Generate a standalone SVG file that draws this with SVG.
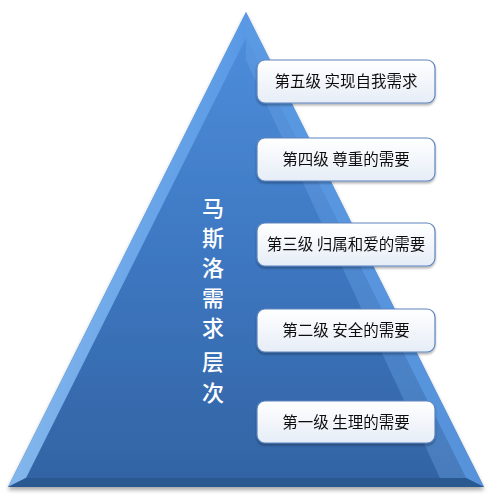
<svg xmlns="http://www.w3.org/2000/svg" width="490" height="496" viewBox="0 0 490 496">
<defs>
<linearGradient id="body" x1="0" y1="0" x2="0" y2="1">
<stop offset="0" stop-color="#4f8fdd"/>
<stop offset="0.5" stop-color="#3e78c2"/>
<stop offset="1" stop-color="#3263a3"/>
</linearGradient>
<linearGradient id="bevelL" x1="0" y1="0" x2="1" y2="0">
<stop offset="0" stop-color="#8cc0f4"/>
<stop offset="1" stop-color="#5a9ae6"/>
</linearGradient>
<linearGradient id="box" x1="0" y1="0" x2="0" y2="1">
<stop offset="0" stop-color="#ffffff"/>
<stop offset="1" stop-color="#e6edf7"/>
</linearGradient>
<filter id="sh" x="-10%" y="-10%" width="120%" height="130%">
<feGaussianBlur in="SourceAlpha" stdDeviation="2"/>
<feOffset dx="0" dy="3"/>
<feComponentTransfer><feFuncA type="linear" slope="0.35"/></feComponentTransfer>
<feMerge><feMergeNode/><feMergeNode in="SourceGraphic"/></feMerge>
</filter>
<filter id="bsh" x="-10%" y="-10%" width="120%" height="140%">
<feGaussianBlur in="SourceAlpha" stdDeviation="1.2"/>
<feOffset dx="0" dy="1.5"/>
<feComponentTransfer><feFuncA type="linear" slope="0.3"/></feComponentTransfer>
<feMerge><feMergeNode/><feMergeNode in="SourceGraphic"/></feMerge>
</filter>
</defs>
<style>
.box{fill:url(#box);stroke:#5d84bd;stroke-width:1.2}
.lbl{font-family:"Noto Sans CJK SC","Microsoft YaHei",sans-serif;font-size:15.5px;fill:#111;text-anchor:middle}
.vt{font-family:"Noto Sans CJK SC",serif;font-size:22px;font-weight:500;fill:#ffffff;text-anchor:middle}
</style>
<g id="pyramid" filter="url(#sh)">
<polygon points="246,12 8,487 484,487" fill="url(#body)"/>
<polygon points="246,12 8,487 26,478 246,38" fill="url(#bevelL)" opacity="0.9"/>
<polygon points="246,12 484,487 466,478 246,38" fill="#5d9be4" opacity="0.85"/>
<polygon points="8,487 484,487 466,478 26,478" fill="#2b5890"/>
<polygon points="246,38 466,478 440,478 246,60" fill="#6fa8ea" opacity="0.35"/>
</g>
<g id="title">
<text class="vt" x="213" y="216">马</text>
<text class="vt" x="213" y="246">斯</text>
<text class="vt" x="213" y="276">洛</text>
<text class="vt" x="213" y="306">需</text>
<text class="vt" x="213" y="336">求</text>
<text class="vt" x="213" y="370">层</text>
<text class="vt" x="213" y="401">次</text>
</g>
<g id="level5" filter="url(#bsh)">
<rect class="box" x="257" y="60" width="178" height="43" rx="8"/>
<text class="lbl" x="346" y="87">第五级 实现自我需求</text>
</g>
<g id="level4" filter="url(#bsh)">
<rect class="box" x="257" y="138" width="178" height="43" rx="8"/>
<text class="lbl" x="346" y="165">第四级 尊重的需要</text>
</g>
<g id="level3" filter="url(#bsh)">
<rect class="box" x="257" y="223" width="178" height="43" rx="8"/>
<text class="lbl" x="346" y="250">第三级 归属和爱的需要</text>
</g>
<g id="level2" filter="url(#bsh)">
<rect class="box" x="257" y="309" width="178" height="43" rx="8"/>
<text class="lbl" x="346" y="336">第二级 安全的需要</text>
</g>
<g id="level1" filter="url(#bsh)">
<rect class="box" x="257" y="401" width="178" height="42" rx="8"/>
<text class="lbl" x="346" y="428">第一级 生理的需要</text>
</g>
<g id="connectors"/>
</svg>
